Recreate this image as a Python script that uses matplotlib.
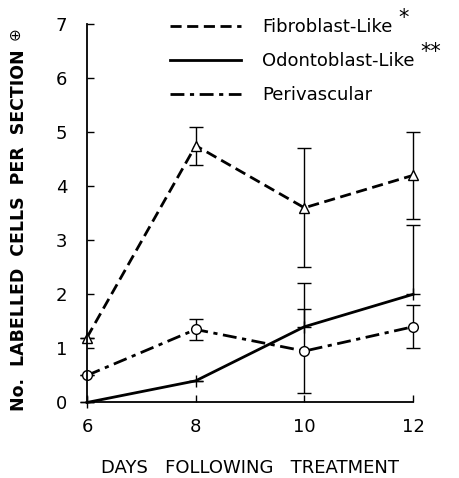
import matplotlib
matplotlib.use("Agg")
import matplotlib.pyplot as plt
from matplotlib.lines import Line2D

# days after treatment
days = [6, 8, 10, 12]

# fibroblast-like cells
fib = [1.2, 4.75, 3.6, 4.2]
fib_err = [0.0, 0.35, 1.1, 0.8]

# odontoblast-like cells (upper error only)
odo = [0.0, 0.4, 1.4, 2.0]
odo_err = [0.0, 0.0, 0.8, 1.28]

# perivascular cells
peri = [0.5, 1.35, 0.95, 1.4]
peri_err = [0.0, 0.2, 0.77, 0.4]

labels = ['Fibroblast-Like', 'Odontoblast-Like', 'Perivascular']
stars = ['*', '**', '']

plt.rcParams['font.family'] = ['DejaVu Sans']

fig = plt.figure(figsize=(4.6, 4.78), dpi=100)
ax = fig.add_axes([0.189, 0.158, 0.709, 0.792])

lw = 2.0
fib_ls = (0, (4, 2))
peri_ls = (0, (5, 2, 1.5, 2))
ax.errorbar(days, fib, yerr=fib_err, color='black', lw=lw, ls=fib_ls,
            marker='^', ms=7, mfc='white', mec='black', mew=1.0,
            ecolor='black', elinewidth=1.0, capsize=5, capthick=1.0,
            clip_on=False)
ax.errorbar(days, odo, yerr=[[0, 0, 0, 0], odo_err], color='black', lw=lw,
            ls='-', marker='|', ms=8, mew=1.0,
            ecolor='black', elinewidth=1.0, capsize=5, capthick=1.0,
            clip_on=False)
ax.errorbar(days, peri, yerr=peri_err, color='black', lw=lw, ls=peri_ls,
            marker='o', ms=7, mfc='white', mec='black', mew=1.0,
            ecolor='black', elinewidth=1.0, capsize=5, capthick=1.0,
            clip_on=False)

ax.set_xlim(6, 12)
ax.set_ylim(0, 7)
ax.set_xticks(days)
ax.set_yticks(range(0, 8))
for s in ['top', 'right']:
    ax.spines[s].set_visible(False)
for s in ['left', 'bottom']:
    ax.spines[s].set_linewidth(1.3)
ax.tick_params(axis='both', direction='in', length=5, width=1.0,
               labelsize=13)
ax.tick_params(axis='x', pad=11)
ax.tick_params(axis='y', pad=14)

ax.set_xlabel('DAYS   FOLLOWING   TREATMENT', fontsize=13, va='center')
ax.xaxis.set_label_coords(0.5, -0.172)
ax.set_ylabel('No.  LABELLED  CELLS  PER  SECTION', fontsize=12.5,
              fontweight='bold')
ax.yaxis.set_label_coords(-0.18, 0.455)
fig.text(0.033, 0.93, '⊕', fontsize=11, rotation=90, ha='center', va='center')

# legend with line samples only
hs = [Line2D([], [], color='black', lw=lw, ls=fib_ls),
      Line2D([], [], color='black', lw=lw, ls='-'),
      Line2D([], [], color='black', lw=lw, ls=peri_ls)]
leg = ax.legend(hs, labels, loc='upper left', bbox_to_anchor=(0.255, 1.016),
                frameon=False, fontsize=13, handlelength=3.9,
                handletextpad=1.2, labelspacing=0.9, borderpad=0,
                borderaxespad=0)

# raised asterisks after the legend labels
fig.canvas.draw()
r = fig.canvas.get_renderer()
for t, st in zip(leg.get_texts(), stars):
    if st:
        bb = t.get_window_extent(r)
        fig.text((bb.x1 + 6) / fig.bbox.width, (bb.y1 - 6) / fig.bbox.height,
                 st, fontsize=15, ha='left', va='baseline')

fig.savefig('out.png', dpi=100)
